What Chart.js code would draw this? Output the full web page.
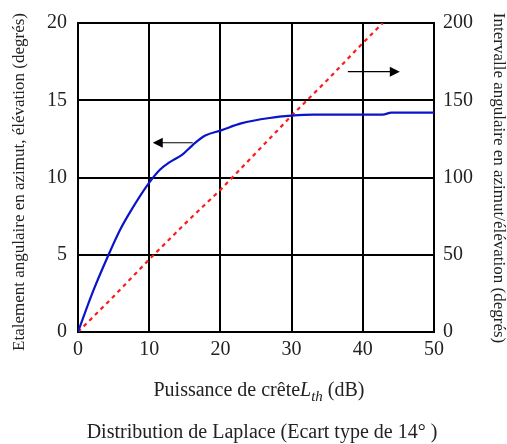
<!DOCTYPE html>
<html>
<head>
<meta charset="utf-8">
<title>Distribution de Laplace</title>
<script src="https://cdn.jsdelivr.net/npm/chart.js"></script>
<style>
  body { margin: 0; background: #fff; }
  #wrap { width: 507px; height: 444px; }
</style>
</head>
<body>
<div id="wrap"><canvas id="chart"></canvas></div>
<script>
// blue curve: spread (left axis, degrés)
const spreadX = [0, 2, 4.2, 5.9, 7.5, 9.9, 11.5, 12.9, 14.7, 16.1, 17.8, 20.1, 22.9, 26.9, 30, 33, 42.8, 44, 50];
const spreadY = [0, 2.5, 4.9, 6.6, 7.9, 9.6, 10.5, 11.0, 11.5, 12.1, 12.7, 13.05, 13.5, 13.85, 14.0, 14.07, 14.07, 14.2, 14.2];
// red dashed: interval (right axis, degrés)
const rangeX = [0, 5, 10, 15, 20, 25, 30, 35, 40, 42.8];
const rangeY = [0, 23, 47, 70, 92, 116, 140, 163, 187, 200];
const xTicks = [0, 10, 20, 30, 40, 50];

const serif = '"Liberation Serif", "DejaVu Serif", serif';

const textPlugin = {
  id: 'texts',
  afterDraw(chart) {
    const ctx = chart.ctx;
    const x = chart.scales.x, yl = chart.scales.y, yr = chart.scales.y2;
    ctx.save();
    ctx.strokeStyle = '#000';
    ctx.fillStyle = '#000';
    ctx.lineWidth = 1.2;
    // arrows
    const arrow = (x0, x1, yy) => {
      const px0 = x.getPixelForValue(x0), px1 = x.getPixelForValue(x1);
      const dir = Math.sign(px1 - px0);
      ctx.beginPath();
      ctx.moveTo(px0, yy);
      ctx.lineTo(px1 - dir * 8, yy);
      ctx.stroke();
      ctx.beginPath();
      ctx.moveTo(px1, yy);
      ctx.lineTo(px1 - dir * 10, yy - 5);
      ctx.lineTo(px1 - dir * 10, yy + 5);
      ctx.closePath();
      ctx.fill();
    };
    arrow(16.1, 10.5, yl.getPixelForValue(12.25));
    arrow(37.9, 45.2, yr.getPixelForValue(168.5));

    ctx.fillStyle = '#222';
    ctx.textBaseline = 'middle';
    ctx.textAlign = 'center';
    // left title
    ctx.save();
    ctx.translate(20, 182);
    ctx.rotate(-Math.PI / 2);
    ctx.font = '17px ' + serif;
    ctx.fillText('Etalement angulaire en azimut, élévation (degrés)', 0, 0);
    ctx.restore();
    // right title
    ctx.save();
    ctx.translate(498, 178);
    ctx.rotate(Math.PI / 2);
    ctx.font = '17px ' + serif;
    ctx.fillText('Intervalle angulaire en azimut/élévation (degrés)', 0, 0);
    ctx.restore();
    // x title with italic subscript
    ctx.textAlign = 'left';
    ctx.textBaseline = 'alphabetic';
    const base = 396;
    const p1 = 'Puissance de crête', p2 = 'L', p3 = 'th', p4 = ' (dB)';
    ctx.font = '20px ' + serif;
    const w1 = ctx.measureText(p1).width, w4 = ctx.measureText(p4).width;
    ctx.font = 'italic 20px ' + serif;
    const w2 = ctx.measureText(p2).width;
    ctx.font = 'italic 15px ' + serif;
    const w3 = ctx.measureText(p3).width;
    let cx = 259 - (w1 + w2 + w3 + w4) / 2;
    ctx.font = '20px ' + serif;
    ctx.fillText(p1, cx, base); cx += w1;
    ctx.font = 'italic 20px ' + serif;
    ctx.fillText(p2, cx, base); cx += w2;
    ctx.font = 'italic 15px ' + serif;
    ctx.fillText(p3, cx, base + 5); cx += w3;
    ctx.font = '20px ' + serif;
    ctx.fillText(p4, cx, base);
    // caption
    ctx.textAlign = 'center';
    ctx.fillText('Distribution de Laplace (Ecart type de 14° )', 262, 438);
    ctx.restore();
  }
};

new Chart(document.getElementById('chart'), {
  type: 'line',
  data: {
    datasets: [
      {
        data: spreadX.map((v, i) => ({ x: v, y: spreadY[i] })),
        borderColor: '#0a14c8',
        borderWidth: 2.2,
        pointRadius: 0,
        cubicInterpolationMode: 'monotone',
        yAxisID: 'y'
      },
      {
        data: rangeX.map((v, i) => ({ x: v, y: rangeY[i] })),
        borderColor: '#ff1a1a',
        borderWidth: 2.2,
        borderDash: [4, 4],
        pointRadius: 0,
        yAxisID: 'y2'
      }
    ]
  },
  options: {
    responsive: true,
    maintainAspectRatio: false,
    animation: false,
    layout: { padding: { top: 21, left: 0, right: 0, bottom: 0 } },
    plugins: { legend: { display: false }, tooltip: { enabled: false } },
    scales: {
      x: {
        type: 'linear',
        min: 0, max: 50,
        afterBuildTicks: s => { s.ticks = xTicks.map(v => ({ value: v })); },
        afterFit: s => { s.height = 112; },
        grid: { color: '#000', lineWidth: 2, drawTicks: false },
        border: { color: '#000', width: 2 },
        ticks: { color: '#222', padding: 6, font: { family: serif, size: 20 } }
      },
      y: {
        position: 'left',
        min: 0, max: 20,
        ticks: { stepSize: 5, color: '#222', padding: 11, font: { family: serif, size: 20 } },
        afterFit: s => { s.width = 78; },
        grid: { color: '#000', lineWidth: 2, drawTicks: false },
        border: { color: '#000', width: 2 }
      },
      y2: {
        position: 'right',
        min: 0, max: 200,
        ticks: { stepSize: 50, color: '#222', padding: 9, font: { family: serif, size: 20 } },
        afterFit: s => { s.width = 73; },
        grid: { drawOnChartArea: false, drawTicks: false },
        border: { color: '#000', width: 2 }
      }
    }
  },
  plugins: [textPlugin]
});
</script>
</body>
</html>
